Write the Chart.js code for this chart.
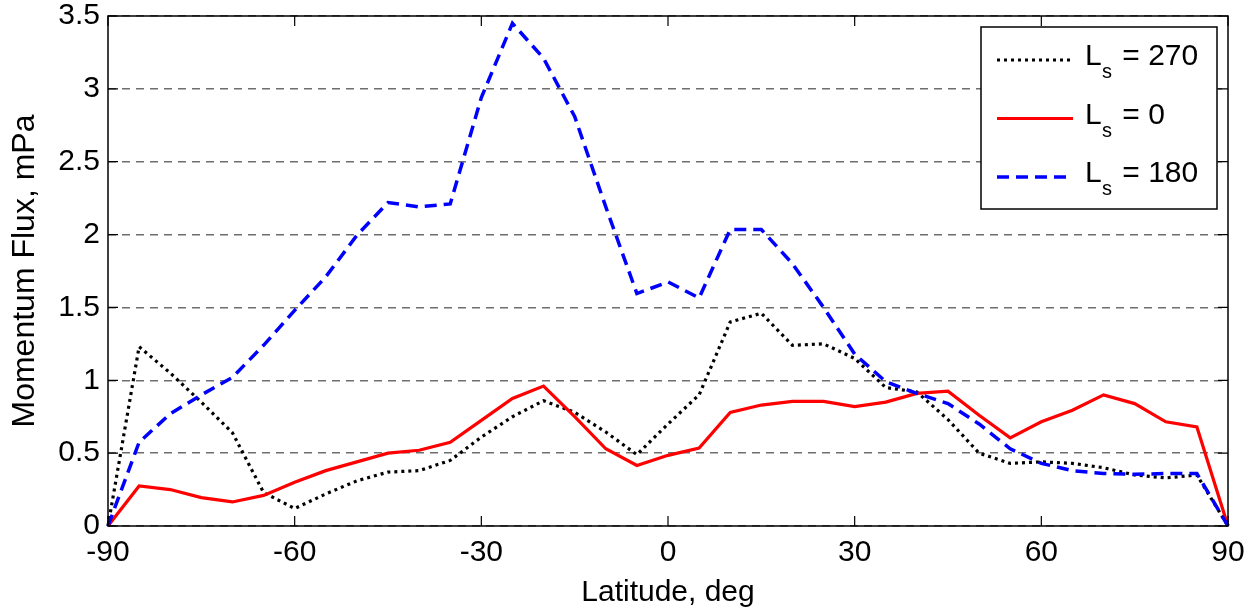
<!DOCTYPE html>
<html>
<head>
<meta charset="utf-8">
<script src="https://cdn.jsdelivr.net/npm/chart.js@4/dist/chart.umd.min.js"></script>
<style>
  html, body { margin: 0; padding: 0; background: #fff; }
  canvas { display: block; }
</style>
</head>
<body>
<canvas id="c" width="1257" height="611"></canvas>
<script>
// ---- data ----
const latitudes = [-90,-85,-80,-75,-70,-65,-60,-55,-50,-45,-40,-35,-30,-25,-20,-15,-10,-5,0,5,10,15,20,25,30,35,40,45,50,55,60,65,70,75,80,85,90];
const ls270 = [0,1.23,1.05,0.85,0.64,0.23,0.12,0.22,0.31,0.37,0.38,0.45,0.61,0.75,0.86,0.78,0.645,0.49,0.70,0.90,1.40,1.46,1.24,1.25,1.15,0.95,0.92,0.73,0.50,0.43,0.44,0.43,0.40,0.35,0.33,0.35,0];
const ls0 = [0,0.275,0.25,0.195,0.165,0.21,0.30,0.38,0.44,0.50,0.52,0.575,0.725,0.875,0.96,0.75,0.53,0.415,0.485,0.535,0.78,0.83,0.855,0.855,0.82,0.85,0.91,0.925,0.76,0.605,0.715,0.795,0.90,0.84,0.715,0.68,0];
const ls180 = [0,0.575,0.77,0.90,1.02,1.24,1.48,1.71,1.995,2.22,2.19,2.21,2.94,3.45,3.21,2.81,2.19,1.595,1.675,1.565,2.035,2.035,1.80,1.50,1.18,0.99,0.91,0.84,0.70,0.53,0.43,0.38,0.36,0.355,0.36,0.36,0];
const seriesNames = ['270', '0', '180'];
const xTicks = [-90,-60,-30,0,30,60,90];
const xTickLabels = ['-90','-60','-30','0','30','60','90'];
const yTicks = [0,0.5,1,1.5,2,2.5,3,3.5];
const yTickLabels = ['0','0.5','1','1.5','2','2.5','3','3.5'];
const xTitle = 'Latitude, deg';
const yTitle = 'Momentum Flux, mPa';

const FONT = "'Liberation Sans', Arial, Helvetica, sans-serif";
const styles = [
  { color: '#000000', width: 3.2, dash: [3, 4] },
  { color: '#ff0000', width: 3.2, dash: [] },
  { color: '#0000ff', width: 3.5, dash: [12, 7] }
];
const seriesData = [ls270, ls0, ls180];

const datasets = seriesData.map((arr, i) => ({
  label: 'Ls = ' + seriesNames[i],
  data: latitudes.map((x, j) => ({ x: x, y: arr[j] })),
  borderColor: styles[i].color,
  borderWidth: styles[i].width,
  borderDash: styles[i].dash,
  pointRadius: 0,
  tension: 0,
  fill: false,
  clip: false,
  order: 2 - i
}));

const framePlugin = {
  id: 'frame',
  afterDraw(chart) {
    const ctx = chart.ctx;
    const a = chart.chartArea;
    const xs = chart.scales.x, ys = chart.scales.y;
    ctx.save();
    ctx.strokeStyle = '#000';
    ctx.lineWidth = 1.5;
    ctx.setLineDash([]);
    ctx.strokeRect(a.left, a.top, a.right - a.left, a.bottom - a.top);
    ctx.lineWidth = 1.2;
    const tl = 10;
    xTicks.forEach(v => {
      const px = xs.getPixelForValue(v);
      ctx.beginPath();
      ctx.moveTo(px, a.bottom); ctx.lineTo(px, a.bottom - tl);
      ctx.moveTo(px, a.top); ctx.lineTo(px, a.top + tl);
      ctx.stroke();
    });
    yTicks.forEach(v => {
      const py = ys.getPixelForValue(v);
      ctx.beginPath();
      ctx.moveTo(a.left, py); ctx.lineTo(a.left + tl, py);
      ctx.moveTo(a.right, py); ctx.lineTo(a.right - tl, py);
      ctx.stroke();
    });

    // legend
    const lx = 981, ly = 27, lw = 236, lh = 182;
    ctx.fillStyle = '#fff';
    ctx.fillRect(lx, ly, lw, lh);
    ctx.strokeStyle = '#000';
    ctx.lineWidth = 1.5;
    ctx.strokeRect(lx, ly, lw, lh);
    const rowsY = [60, 118.5, 177];
    seriesNames.forEach((name, i) => {
      const y = rowsY[i];
      ctx.save();
      ctx.strokeStyle = styles[i].color;
      ctx.lineWidth = styles[i].width;
      ctx.setLineDash(styles[i].dash);
      ctx.beginPath();
      ctx.moveTo(997, y); ctx.lineTo(1073, y);
      ctx.stroke();
      ctx.restore();
      const base = y + 5;
      ctx.fillStyle = '#000';
      ctx.textAlign = 'left';
      ctx.textBaseline = 'alphabetic';
      ctx.font = '30px ' + FONT;
      ctx.fillText('L', 1085, base);
      ctx.font = '20px ' + FONT;
      ctx.fillText('s', 1102, base + 13);
      ctx.font = '30px ' + FONT;
      ctx.fillText(' = ' + name, 1114, base);
    });
    ctx.restore();
  }
};

new Chart(document.getElementById('c'), {
  type: 'line',
  data: { datasets: datasets },
  plugins: [framePlugin],
  options: {
    responsive: false,
    animation: false,
    devicePixelRatio: 1,
    layout: { padding: { top: 16, right: 29, left: 0, bottom: 0 } },
    plugins: { legend: { display: false }, tooltip: { enabled: false } },
    scales: {
      x: {
        type: 'linear',
        min: -90, max: 90,
        afterBuildTicks: s => { s.ticks = xTicks.map(v => ({ value: v })); },
        afterFit: s => { s.height = 85; s.paddingLeft = 0; s.paddingRight = 0; },
        grid: { display: false, drawTicks: false },
        border: { display: false },
        ticks: {
          color: '#000',
          font: { family: FONT, size: 30, lineHeight: 1 },
          padding: 12,
          maxRotation: 0,
          autoSkip: false,
          callback: (v) => xTickLabels[xTicks.indexOf(v)]
        },
        title: {
          display: true, text: xTitle, color: '#000',
          font: { family: FONT, size: 30, lineHeight: 1 },
          padding: { top: 0, bottom: 3 }
        }
      },
      y: {
        type: 'linear',
        min: 0, max: 3.5,
        afterBuildTicks: s => { s.ticks = yTicks.map(v => ({ value: v })); },
        afterFit: s => { s.width = 108; s.paddingTop = 0; s.paddingBottom = 0; },
        grid: { color: '#6e6e6e', lineWidth: 1.5, drawTicks: false },
        border: { display: false, dash: [8, 6] },
        ticks: {
          color: '#000',
          font: { family: FONT, size: 30, lineHeight: 1 },
          padding: 8,
          autoSkip: false,
          callback: (v) => yTickLabels[yTicks.indexOf(v)]
        },
        title: {
          display: true, text: yTitle, color: '#000',
          font: { family: FONT, size: 32, lineHeight: 1 },
          padding: { top: 9, bottom: 0 }
        }
      }
    }
  }
});
</script>
</body>
</html>
